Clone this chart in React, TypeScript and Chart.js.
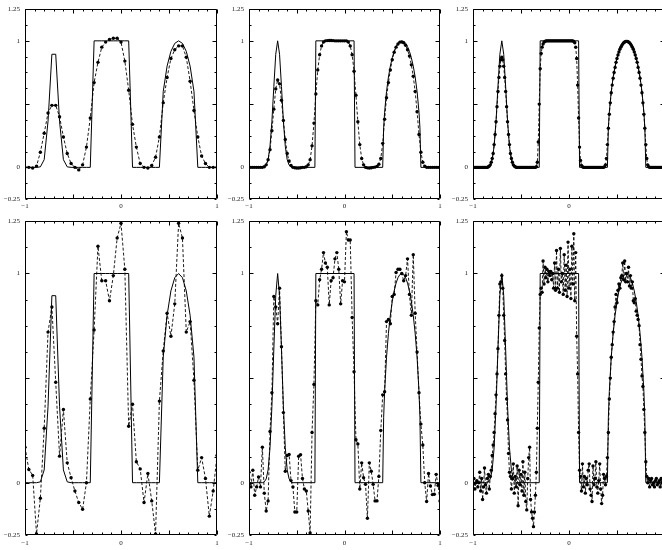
import React, { useEffect, useRef } from "react";
import { Chart, registerables } from "chart.js";

Chart.register(...registerables);

// ---- grids (abscissae of the sampled nodes) ----
const X50 = [
  -1, -0.96, -0.92, -0.88, -0.84, -0.8, -0.76, -0.72, -0.68, -0.64,
  -0.6, -0.56, -0.52, -0.48, -0.44, -0.4, -0.36, -0.32, -0.28, -0.24,
  -0.2, -0.16, -0.12, -0.08, -0.04, 0, 0.04, 0.08, 0.12, 0.16,
  0.2, 0.24, 0.28, 0.32, 0.36, 0.4, 0.44, 0.48, 0.52, 0.56,
  0.6, 0.64, 0.68, 0.72, 0.76, 0.8, 0.84, 0.88, 0.92, 0.96, 1,
];

const X100 = [
  -1, -0.98, -0.96, -0.94, -0.92, -0.9, -0.88, -0.86, -0.84, -0.82,
  -0.8, -0.78, -0.76, -0.74, -0.72, -0.7, -0.68, -0.66, -0.64, -0.62,
  -0.6, -0.58, -0.56, -0.54, -0.52, -0.5, -0.48, -0.46, -0.44, -0.42,
  -0.4, -0.38, -0.36, -0.34, -0.32, -0.3, -0.28, -0.26, -0.24, -0.22,
  -0.2, -0.18, -0.16, -0.14, -0.12, -0.1, -0.08, -0.06, -0.04, -0.02,
  0, 0.02, 0.04, 0.06, 0.08, 0.1, 0.12, 0.14, 0.16, 0.18,
  0.2, 0.22, 0.24, 0.26, 0.28, 0.3, 0.32, 0.34, 0.36, 0.38,
  0.4, 0.42, 0.44, 0.46, 0.48, 0.5, 0.52, 0.54, 0.56, 0.58,
  0.6, 0.62, 0.64, 0.66, 0.68, 0.7, 0.72, 0.74, 0.76, 0.78,
  0.8, 0.82, 0.84, 0.86, 0.88, 0.9, 0.92, 0.94, 0.96, 0.98, 1,
];

const X200 = [
  -1, -0.99, -0.98, -0.97, -0.96, -0.95, -0.94, -0.93, -0.92, -0.91,
  -0.9, -0.89, -0.88, -0.87, -0.86, -0.85, -0.84, -0.83, -0.82, -0.81,
  -0.8, -0.79, -0.78, -0.77, -0.76, -0.75, -0.74, -0.73, -0.72, -0.71,
  -0.7, -0.69, -0.68, -0.67, -0.66, -0.65, -0.64, -0.63, -0.62, -0.61,
  -0.6, -0.59, -0.58, -0.57, -0.56, -0.55, -0.54, -0.53, -0.52, -0.51,
  -0.5, -0.49, -0.48, -0.47, -0.46, -0.45, -0.44, -0.43, -0.42, -0.41,
  -0.4, -0.39, -0.38, -0.37, -0.36, -0.35, -0.34, -0.33, -0.32, -0.31,
  -0.3, -0.29, -0.28, -0.27, -0.26, -0.25, -0.24, -0.23, -0.22, -0.21,
  -0.2, -0.19, -0.18, -0.17, -0.16, -0.15, -0.14, -0.13, -0.12, -0.11,
  -0.1, -0.09, -0.08, -0.07, -0.06, -0.05, -0.04, -0.03, -0.02, -0.01,
  0, 0.01, 0.02, 0.03, 0.04, 0.05, 0.06, 0.07, 0.08, 0.09,
  0.1, 0.11, 0.12, 0.13, 0.14, 0.15, 0.16, 0.17, 0.18, 0.19,
  0.2, 0.21, 0.22, 0.23, 0.24, 0.25, 0.26, 0.27, 0.28, 0.29,
  0.3, 0.31, 0.32, 0.33, 0.34, 0.35, 0.36, 0.37, 0.38, 0.39,
  0.4, 0.41, 0.42, 0.43, 0.44, 0.45, 0.46, 0.47, 0.48, 0.49,
  0.5, 0.51, 0.52, 0.53, 0.54, 0.55, 0.56, 0.57, 0.58, 0.59,
  0.6, 0.61, 0.62, 0.63, 0.64, 0.65, 0.66, 0.67, 0.68, 0.69,
  0.7, 0.71, 0.72, 0.73, 0.74, 0.75, 0.76, 0.77, 0.78, 0.79,
  0.8, 0.81, 0.82, 0.83, 0.84, 0.85, 0.86, 0.87, 0.88, 0.89,
  0.9, 0.91, 0.92, 0.93, 0.94, 0.95, 0.96, 0.97, 0.98, 0.99, 1,
];

// ---- exact solution (solid line) ----
const EXACT_COARSE_Y = [
  0, 0, 0, 0, 0.004, 0.061, 0.365, 0.894, 0.894, 0.365, 0.061, 0.004,
  0, 0, 0, 0, 0, 0,
  1, 1, 1, 1, 1, 1, 1, 1, 1, 1,
  0, 0, 0, 0, 0, 0, 0, 0,
  0.6, 0.8, 0.917, 0.98, 1, 0.98, 0.917, 0.8, 0.6,
  0, 0, 0, 0, 0, 0,
];

const EXACT_FINE_X = [
  -1, -0.86, -0.84, -0.82, -0.8, -0.78, -0.76, -0.74, -0.72, -0.7,
  -0.68, -0.66, -0.64, -0.62, -0.6, -0.58, -0.56, -0.54,
  -0.31, -0.3, 0.1, 0.11,
  0.4, 0.41, 0.42, 0.44, 0.46, 0.48, 0.5, 0.52, 0.54, 0.56, 0.58, 0.6,
  0.62, 0.64, 0.66, 0.68, 0.7, 0.72, 0.74, 0.76, 0.78, 0.79, 0.8, 1,
];
const EXACT_FINE_Y = [
  0, 0, 0.004, 0.018, 0.061, 0.167, 0.365, 0.639, 0.894, 1,
  0.894, 0.639, 0.365, 0.167, 0.061, 0.018, 0.004, 0,
  0, 1, 1, 0,
  0, 0.312, 0.436, 0.6, 0.714, 0.8, 0.866, 0.917, 0.954, 0.98, 0.995, 1,
  0.995, 0.98, 0.954, 0.917, 0.866, 0.8, 0.714, 0.6, 0.436, 0.312, 0, 0,
];

// ---- numerical solutions (dashed line with dots) ----
const NUM50_TOP = [
  0, 0, -0.005, 0.01, 0.12, 0.27, 0.43, 0.49, 0.49, 0.4,
  0.24, 0.11, 0.03, 0, -0.02, 0.02, 0.16, 0.39, 0.67, 0.83,
  0.95, 0.99, 1.01, 1.02, 1.02, 0.99, 0.84, 0.61, 0.34, 0.16,
  0.03, 0, -0.005, 0.015, 0.08, 0.24, 0.51, 0.71, 0.86, 0.93,
  0.96, 0.96, 0.87, 0.68, 0.45, 0.24, 0.09, 0.03, 0, 0, 0,
];

const NUM100_TOP = [
  0, 0, 0, 0, 0, 0, 0, 0,
  0.005, 0.02, 0.06, 0.14, 0.29, 0.46, 0.62, 0.69, 0.66, 0.53, 0.37, 0.22, 0.11, 0.05, 0.015,
  0, -0.003, -0.005, -0.005, -0.003, 0, 0,
  0.005, 0.02, 0.06, 0.17, 0.35, 0.58, 0.77, 0.89, 0.96, 0.99,
  1, 1.002, 1.003, 1.003, 1.002, 1, 1, 1, 1, 1, 1, 1,
  0.99, 0.96, 0.89, 0.76, 0.57, 0.36, 0.18, 0.07, 0.02,
  0, -0.004, -0.005, -0.003, 0, 0.002,
  0.008, 0.025, 0.07, 0.19, 0.38, 0.55, 0.67, 0.77, 0.85, 0.91, 0.95, 0.975, 0.99,
  0.99, 0.985, 0.965, 0.93, 0.88, 0.81, 0.72, 0.6, 0.44, 0.26, 0.12, 0.04, 0.01,
  0, 0, 0, 0, 0, 0, 0, 0,
];

const NUM200_TOP = [
  0, 0, 0, 0, 0, 0, 0, 0, 0, 0, 0, 0, 0, 0, 0,
  0, 0.005, 0.01, 0.02, 0.04, 0.07, 0.11, 0.18, 0.26, 0.36, 0.48, 0.6, 0.71, 0.8, 0.85,
  0.87, 0.85, 0.8, 0.71, 0.6, 0.48, 0.36, 0.26, 0.18, 0.11, 0.07, 0.04, 0.02, 0.01, 0.005, 0,
  0, 0, 0, 0, 0, 0, 0, 0, 0, 0, 0, 0, 0, 0, 0, 0, 0, 0, 0, 0,
  0.005, 0.04, 0.2, 0.5, 0.78, 0.9, 0.95, 0.975, 0.99, 0.995,
  1, 1, 1, 1, 1, 1, 1, 1, 1, 1, 1, 1, 1, 1, 1, 1, 1, 1, 1, 1, 1, 1, 1, 1, 1, 1, 1, 1, 1,
  0.995, 0.985, 0.95, 0.86, 0.65, 0.39, 0.16, 0.055, 0.016, 0.005, 0,
  0, 0, 0, 0, 0, 0, 0, 0, 0, 0, 0, 0, 0, 0, 0, 0, 0, 0, 0, 0, 0,
  0.005, 0.02, 0.07,
  0.18, 0.31, 0.42, 0.51, 0.59, 0.65, 0.705, 0.75, 0.79, 0.83,
  0.86, 0.888, 0.912, 0.933, 0.95, 0.964, 0.976, 0.985, 0.991, 0.995,
  0.996,
  0.995, 0.991, 0.985, 0.976, 0.964, 0.95, 0.933, 0.912, 0.888, 0.86,
  0.83, 0.79, 0.75, 0.705, 0.65, 0.59, 0.51, 0.42, 0.31, 0.18,
  0.07, 0.02, 0.005,
  0, 0, 0, 0, 0, 0, 0, 0, 0, 0, 0, 0, 0, 0, 0, 0, 0,
];

const NUM50_BOT = [
  0.17, 0.063, 0.035, -0.245, -0.074, 0.26, 0.72, 0.84, 0.48, 0.127,
  0.35, 0.095, 0.024, -0.04, -0.095, -0.127, 0, 0.4, 0.73, 1.13,
  0.965, 0.965, 0.87, 0.99, 1.17, 1.24, 1.02, 0.27, 0.375, 0.1,
  0.066, -0.095, 0.044, -0.087, -0.245, 0.39, 0.63, 0.81, 0.7, 0.855,
  1.24, 1.17, 0.72, 0.77, 0.49, 0.06, 0.12, 0.02, -0.16, -0.04, 0.13,
];

const NUM100_BOT = [
  0.05, -0.02, 0.06, -0.06, -0.02, 0.027, -0.02, 0.17, -0.05, -0.135, -0.087,
  0.245, 0.43, 0.89, 0.84, 0.76, 0.93, 0.65, 0.335, 0.055, 0.13,
  0.135, 0.01, -0.02, -0.14, -0.14, 0.127, 0.134, 0.02, -0.03, -0.04, -0.135, -0.24,
  0.24, 0.47, 0.87, 0.85, 0.97, 1.02, 1.1, 1.05, 1.03, 0.85, 0.965, 0.98, 1.07, 1.1, 1.02, 0.855, 0.965, 0.96, 1.2, 1.16, 1.16,
  0.79, 0.53, 0.205, 0.185, -0.03, 0.095, 0.024, -0.008, -0.17, 0.095, 0.055, -0.008, -0.087, -0.087, 0.03,
  0.25, 0.42, 0.435, 0.77, 0.78, 0.76, 0.89, 0.9, 1.005, 1.02, 1.02, 1, 0.965, 0.99, 1.07, 0.9, 0.8, 1.09, 0.81, 0.625, 0.43, 0.28, 0.18,
  0, -0.09, 0.044, -0.016, -0.057, -0.055, 0.04, -0.013, -0.087,
];

const NUM200_BOT = [
  -0.01, 0.02, -0.03, 0, 0.01, -0.02, 0, 0.05, -0.04, 0.02, -0.08, -0.02, 0.07, -0.01, -0.05, 0.02, 0.04, -0.03, 0.03,
  0.06, 0.13, 0.18, 0.24, 0.33, 0.42, 0.52, 0.64, 0.8, 0.95, 0.96, 0.99, 0.93, 0.8, 0.68, 0.52, 0.4, 0.3, 0.14, 0.05,
  0.03, -0.03, 0.02, 0.09, -0.05, 0.03, -0.02, 0.08, -0.11, 0.06, -0.01, 0.04, -0.04, 0.1,
  -0.06, 0.05, -0.09, -0.13, 0.02, 0.12, 0.17, -0.08, -0.14, -0.17, -0.21, -0.14, -0.06, 0.05,
  0.26, 0.48, 0.74, 0.9, 0.93, 0.91,
  1.06, 0.95, 1.03, 0.98, 1.02, 0.96, 1.01, 0.99, 1.01, 0.97, 1, 0.93, 1.05, 0.92, 1.11, 0.93, 1.02, 0.91,
  1.12, 0.96, 1, 0.9, 1.09, 0.92, 1.04, 0.89, 1.15, 0.93, 1.02, 0.88, 1.13, 0.95, 1.19, 0.87, 1.1,
  0.7, 0.52, 0.24, 0.06, 0.03,
  -0.04, 0.09, -0.02, 0.03, -0.05, 0.02, -0.01, 0.06, 0.09, -0.03, -0.06, -0.09, 0.08, -0.01,
  0.02, 0.1, -0.02, -0.05, 0.01, 0.09, -0.03, -0.1, -0.06, 0.04, 0.02, -0.01, 0.03,
  0.12, 0.24, 0.4, 0.5, 0.6, 0.66, 0.72, 0.77, 0.84, 0.9, 0.86, 0.92, 0.95, 0.93, 0.98, 0.99, 1.05, 0.97, 1.06, 0.96,
  1, 0.96, 1.03, 0.94, 0.99, 0.93, 0.96, 0.87, 0.86, 0.88, 0.82, 0.8, 0.78, 0.75, 0.66, 0.59, 0.51, 0.46, 0.35, 0.24, 0.1,
  0.03, 0, 0.02, -0.02, 0.01, 0.02, -0.01, 0, -0.02, 0.01, 0.02, -0.01, 0, 0.01, -0.02, 0.02, 0, -0.01, 0.01, 0,
];

// ---- axis labels ----
const Y_TICKS = [-0.25, 0, 1, 1.25];
const X_TICKS = [-1, 0, 1];

const LABEL_FONT = { family: "'Liberation Serif', 'DejaVu Serif', serif", size: 7 };

const fmt = (v: number) => (v < 0 ? "\u2212" + String(Math.abs(v)) : String(v));

const framePlugin = {
  id: "frameTicks",
  afterDatasetsDraw(chart: any) {
    const { ctx, chartArea: a, scales } = chart;
    const xs = scales.x;
    const ys = scales.y;
    ctx.save();
    ctx.strokeStyle = "#000";
    ctx.lineWidth = 1;
    const l = Math.round(a.left) + 0.5;
    const r = Math.round(a.right) - 0.5;
    const t = Math.round(a.top) + 0.5;
    const b = Math.round(a.bottom) - 0.5;
    ctx.beginPath();
    ctx.rect(l, t, r - l, b - t);
    ctx.stroke();
    ctx.beginPath();
    for (let i = -10; i <= 10; i++) {
      const px = Math.round(xs.getPixelForValue(i / 10)) + 0.5;
      const len = i % 5 === 0 ? 4 : 2;
      ctx.moveTo(px, b);
      ctx.lineTo(px, b - len);
      ctx.moveTo(px, t);
      ctx.lineTo(px, t + len);
    }
    for (let i = -2; i <= 10; i++) {
      const py = Math.round(ys.getPixelForValue(i * 0.125)) + 0.5;
      const len = i % 4 === 0 ? 4 : 2;
      ctx.moveTo(l, py);
      ctx.lineTo(l + len, py);
      ctx.moveTo(r, py);
      ctx.lineTo(r - len, py);
    }
    ctx.stroke();
    ctx.restore();
  },
};

type PanelDef = {
  L: number; T: number; W: number; H: number;
  nx: number[]; ny: number[]; ex: number[]; ey: number[];
  xh: number; xp: number;
};

const PANELS: PanelDef[] = [
  { L: 25, T: 7, W: 192, H: 192, nx: X50, ny: NUM50_TOP, ex: X50, ey: EXACT_COARSE_Y, xh: 14, xp: 3 },
  { L: 249, T: 7, W: 191, H: 192, nx: X100, ny: NUM100_TOP, ex: EXACT_FINE_X, ey: EXACT_FINE_Y, xh: 14, xp: 3 },
  { L: 473, T: 7, W: 192, H: 192, nx: X200, ny: NUM200_TOP, ex: EXACT_FINE_X, ey: EXACT_FINE_Y, xh: 14, xp: 3 },
  { L: 25, T: 219, W: 192, H: 316, nx: X50, ny: NUM50_BOT, ex: X50, ey: EXACT_COARSE_Y, xh: 16, xp: 4 },
  { L: 249, T: 219, W: 191, H: 316, nx: X100, ny: NUM100_BOT, ex: EXACT_FINE_X, ey: EXACT_FINE_Y, xh: 16, xp: 4 },
  { L: 473, T: 219, W: 192, H: 316, nx: X200, ny: NUM200_BOT, ex: EXACT_FINE_X, ey: EXACT_FINE_Y, xh: 16, xp: 4 },
];

const YAXIS_W = 25;
const PAD_TOP = 7;
const PAD_RIGHT = 8;

function Panel({ p }: { p: PanelDef }) {
  const ref = useRef<HTMLCanvasElement | null>(null);
  const cw = p.W + YAXIS_W + PAD_RIGHT;
  const ch = p.H + PAD_TOP + p.xh;
  useEffect(() => {
    if (!ref.current) return;
    const chart = new Chart(ref.current, {
      type: "line",
      data: {
        datasets: [
          {
            data: p.nx.map((x, i) => ({ x, y: p.ny[i] })),
            borderColor: "#000",
            borderWidth: 0.9,
            borderDash: [3, 2],
            pointRadius: 1.7,
            pointBackgroundColor: "#000",
            pointBorderWidth: 0,
            pointHoverRadius: 1.7,
            tension: 0,
            order: 1,
          },
          {
            data: p.ex.map((x, i) => ({ x, y: p.ey[i] })),
            borderColor: "#000",
            borderWidth: 1,
            pointRadius: 0,
            tension: 0,
            order: 2,
          },
        ],
      },
      options: {
        responsive: false,
        animation: false,
        devicePixelRatio: 1,
        events: [],
        layout: { padding: { left: 0, top: PAD_TOP, right: PAD_RIGHT, bottom: 0 } },
        plugins: { legend: { display: false }, tooltip: { enabled: false } },
        scales: {
          x: {
            type: "linear",
            min: -1,
            max: 1,
            grid: { display: false, drawTicks: false },
            border: { display: false },
            ticks: {
              font: LABEL_FONT,
              color: "#222",
              padding: p.xp,
              autoSkip: false,
              maxRotation: 0,
              callback: (v: any) => fmt(Number(v)),
            },
            afterBuildTicks: (s: any) => {
              s.ticks = X_TICKS.map((v) => ({ value: v }));
            },
            afterFit: (s: any) => {
              s.height = p.xh;
            },
          },
          y: {
            type: "linear",
            min: -0.25,
            max: 1.25,
            grid: { display: false, drawTicks: false },
            border: { display: false },
            ticks: {
              font: LABEL_FONT,
              color: "#222",
              padding: 5,
              autoSkip: false,
              callback: (v: any) => fmt(Number(v)),
            },
            afterBuildTicks: (s: any) => {
              s.ticks = Y_TICKS.map((v) => ({ value: v }));
            },
            afterFit: (s: any) => {
              s.width = YAXIS_W;
            },
          },
        },
      } as any,
      plugins: [framePlugin],
    });
    return () => chart.destroy();
  }, []);
  return (
    <canvas
      ref={ref}
      width={cw}
      height={ch}
      style={{ position: "absolute", left: p.L - YAXIS_W, top: p.T - PAD_TOP, width: cw, height: ch }}
    />
  );
}

export default function App() {
  return (
    <div
      style={{
        position: "fixed",
        left: 0,
        top: 0,
        width: 662,
        height: 550,
        overflow: "hidden",
        background: "#fff",
      }}
    >
      {PANELS.map((p, i) => (
        <Panel key={i} p={p} />
      ))}
    </div>
  );
}
